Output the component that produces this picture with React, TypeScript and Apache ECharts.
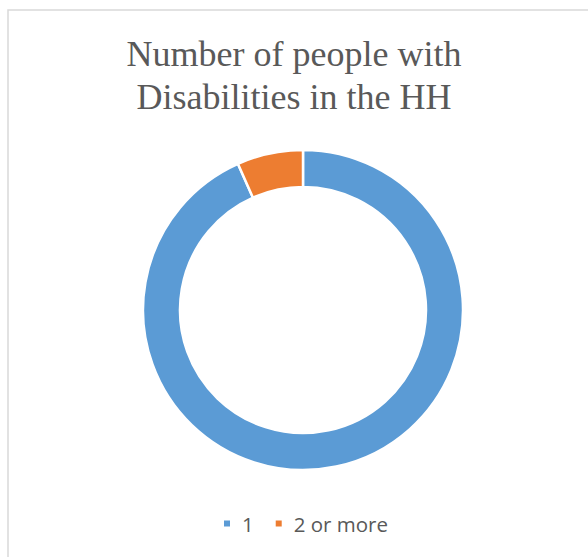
import React, { useEffect, useRef } from "react";
import * as echarts from "echarts";

const titleText = "Number of people with\nDisabilities in the HH";
const categories = ["1", "2 or more"];
const values = [28, 2];
const colors = ["#5b9bd5", "#ed7d31"];

export default function App() {
  const ref = useRef<HTMLDivElement>(null);
  useEffect(() => {
    const chart = echarts.init(ref.current!, null, { renderer: "svg" });
    chart.setOption({
      animation: false,
      backgroundColor: "#ffffff",
      title: {
        text: titleText,
        left: "center",
        top: 27,
        textStyle: {
          fontFamily: "Liberation Serif",
          fontSize: 36,
          fontWeight: "normal",
          color: "#595959",
          lineHeight: 43,
        },
      },
      legend: {
        bottom: 18,
        left: 217,
        itemWidth: 8,
        itemHeight: 8,
        itemGap: 20,
        icon: "rect",
        textStyle: {
          fontFamily: "Open Sans",
          fontSize: 20.5,
          color: "#595959",
          padding: [0, 0, 0, 6],
        },
        data: categories,
      },
      graphic: [
        {
          type: "rect",
          shape: { x: 8, y: 10, width: 700, height: 700 },
          style: { fill: "none", stroke: "#d9d9d9", lineWidth: 1.5 },
          silent: true,
        },
      ],
      series: [
        {
          type: "pie",
          center: [303, 310],
          radius: [123, 160],
          startAngle: 90,
          clockwise: true,
          label: { show: false },
          labelLine: { show: false },
          itemStyle: { borderColor: "#ffffff", borderWidth: 2.5 },
          data: categories.map((c, i) => ({
            name: c,
            value: values[i],
            itemStyle: { color: colors[i] },
          })),
        },
      ],
    });
    return () => chart.dispose();
  }, []);
  return (
    <div
      ref={ref}
      style={{ position: "absolute", left: 0, top: 0, width: 588, height: 557 }}
    />
  );
}
